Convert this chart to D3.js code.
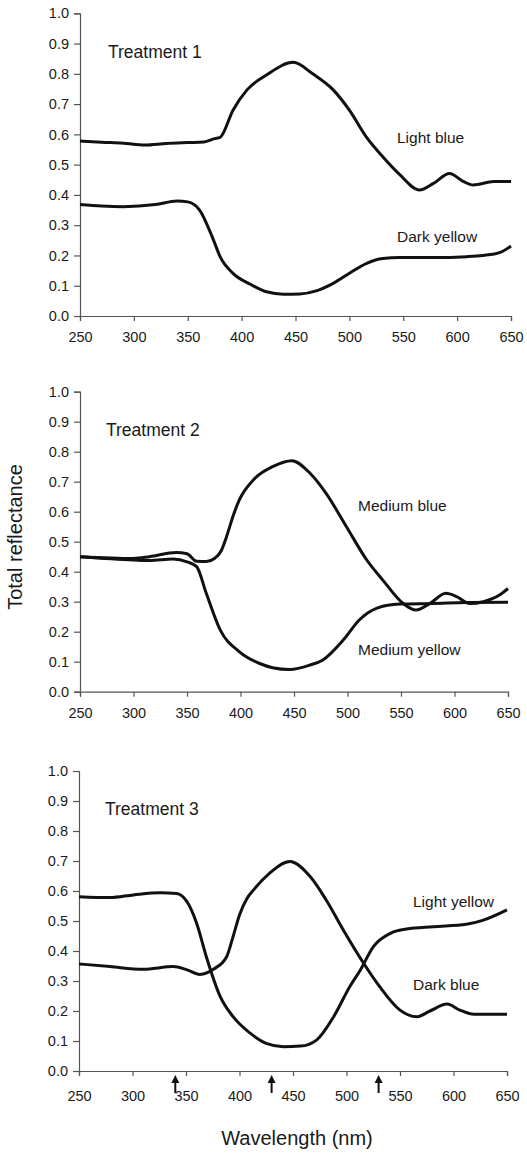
<!DOCTYPE html>
<html><head><meta charset="utf-8">
<script src="https://cdn.jsdelivr.net/npm/d3@7"></script>
<style>body{margin:0;background:#fff}svg{display:block}text{font-family:Arial,"Liberation Sans",sans-serif;fill:#1a1a1a}</style>
</head><body>
<script>
const xTicks = [250,300,350,400,450,500,550,600,650];
const yTicks = [0,0.1,0.2,0.3,0.4,0.5,0.6,0.7,0.8,0.9,1.0];
const panelTitles = ["Treatment 1","Treatment 2","Treatment 3"];
const arrowWavelengths = [340,430,530];

// Treatment 1
const lightBlueWl = [250,270,290,310,330,350,365,375,380,392,405,423,448,466,485,500,516,531,547,565,578,593,606,615,634,650];
const lightBlue   = [0.578,0.574,0.571,0.565,0.570,0.573,0.575,0.586,0.59,0.68,0.747,0.796,0.838,0.80,0.747,0.68,0.59,0.526,0.466,0.416,0.438,0.471,0.444,0.433,0.444,0.444];
const darkYellowWl = [250,270,290,320,340,350,361,374,380,392,408,423,439,454,470,485,500,516,531,547,578,609,624,640,650];
const darkYellow   = [0.368,0.363,0.361,0.368,0.38,0.377,0.35,0.25,0.196,0.141,0.105,0.08,0.072,0.073,0.084,0.108,0.141,0.174,0.19,0.193,0.193,0.196,0.2,0.21,0.231];

// Treatment 2
const mediumBlueWl = [250,300,315,340,350,359,368,376,382,387,393,399,412,430,448,465,480,499,518,533,552,564,577,592,602,614,627,642,650];
const mediumBlue   = [0.45,0.444,0.45,0.464,0.46,0.435,0.434,0.445,0.47,0.517,0.585,0.64,0.706,0.75,0.77,0.728,0.661,0.55,0.439,0.372,0.294,0.272,0.294,0.328,0.317,0.294,0.30,0.322,0.344];
const mediumYellowWl = [250,300,315,337,350,359,368,381,399,418,430,446,465,477,496,511,527,549,580,611,650];
const mediumYellow   = [0.45,0.439,0.437,0.442,0.433,0.417,0.328,0.206,0.133,0.094,0.08,0.074,0.089,0.106,0.172,0.239,0.278,0.292,0.294,0.297,0.298];

// Treatment 3
const lightYellowWl = [250,279,301,326,341,351,360,369,382,394,410,425,441,457,472,488,503,513,525,541,556,581,612,628,650];
const lightYellow   = [0.581,0.578,0.587,0.594,0.592,0.564,0.492,0.381,0.248,0.181,0.126,0.092,0.081,0.083,0.103,0.181,0.281,0.337,0.414,0.459,0.473,0.481,0.489,0.503,0.537];
const darkBlueWl = [250,279,310,338,351,363,376,388,394,400,407,413,428,447,466,481,497,516,531,550,566,578,594,606,619,650];
const darkBlue   = [0.357,0.348,0.339,0.348,0.337,0.322,0.34,0.381,0.448,0.52,0.575,0.603,0.659,0.698,0.648,0.57,0.47,0.359,0.281,0.203,0.181,0.2,0.223,0.203,0.189,0.189];

const seriesLabels = [["Light blue","Dark yellow"],["Medium blue","Medium yellow"],["Light yellow","Dark blue"]];

const panels = [
  {x0:80,x1:511,top:13.3,bottom:316,tickDy:25,series:[[lightBlueWl,lightBlue],[darkYellowWl,darkYellow]],
   title:[108,58],labels:[[397,143],[397,242]]},
  {x0:80,x1:508,top:391.7,bottom:691.7,tickDy:25,series:[[mediumBlueWl,mediumBlue],[mediumYellowWl,mediumYellow]],
   title:[106,436],labels:[[358,511],[358,655]]},
  {x0:79,x1:507,top:771,bottom:1071,tickDy:29,series:[[lightYellowWl,lightYellow],[darkBlueWl,darkBlue]],
   title:[105,815],labels:[[413,907],[413,990]],arrows:true}
];

const svg = d3.select("body").append("svg").attr("width",527).attr("height",1158);

panels.forEach((p,i)=>{
  const x = d3.scaleLinear().domain([250,650]).range([p.x0,p.x1]);
  const y = d3.scaleLinear().domain([0,1]).range([p.bottom,p.top]);
  const g = svg.append("g");
  const ya = g.append("g").attr("transform",`translate(${p.x0},0)`)
    .call(d3.axisLeft(y).tickValues(yTicks).tickFormat(d3.format(".1f")).tickSize(6).tickPadding(5));
  const xa = g.append("g").attr("transform",`translate(0,${p.bottom})`)
    .call(d3.axisBottom(x).tickValues(xTicks).tickSize(5).tickPadding(p.tickDy-14));
  [ya,xa].forEach(a=>{
    a.select(".domain").attr("stroke","#555").attr("stroke-width",1.2);
    a.selectAll(".tick line").attr("stroke","#555").attr("stroke-width",1.2);
    a.selectAll("text").attr("font-size",14.5).attr("fill","#1a1a1a").attr("font-family","Arial, Liberation Sans, sans-serif");
  });
  const line = d3.line().x(d=>x(d[0])).y(d=>y(d[1])).curve(d3.curveMonotoneX);
  p.series.forEach(s=>{
    const pts = s[0].map((w,k)=>[w,s[1][k]]);
    g.append("path").attr("d",line(pts)).attr("fill","none").attr("stroke","#111").attr("stroke-width",3).attr("stroke-linejoin","round");
  });
  g.append("text").attr("x",p.title[0]).attr("y",p.title[1]).attr("font-size",17.5).text(panelTitles[i]);
  seriesLabels[i].forEach((t,k)=>{
    g.append("text").attr("x",p.labels[k][0]).attr("y",p.labels[k][1]).attr("font-size",15.5).text(t);
  });
  if(p.arrows){
    arrowWavelengths.forEach(w=>{
      const ax = x(w), ay = p.bottom+4;
      g.append("path").attr("d",`M${ax},${ay} L${ax-4},${ay+8} L${ax+4},${ay+8} Z`).attr("fill","#111");
      g.append("line").attr("x1",ax).attr("x2",ax).attr("y1",ay+6).attr("y2",ay+18).attr("stroke","#111").attr("stroke-width",2);
    });
  }
});

svg.append("text").attr("transform","translate(22,537) rotate(-90)").attr("text-anchor","middle").attr("font-size",20).text("Total reflectance");
svg.append("text").attr("x",297).attr("y",1145).attr("text-anchor","middle").attr("font-size",20).text("Wavelength (nm)");
</script>
</body></html>
